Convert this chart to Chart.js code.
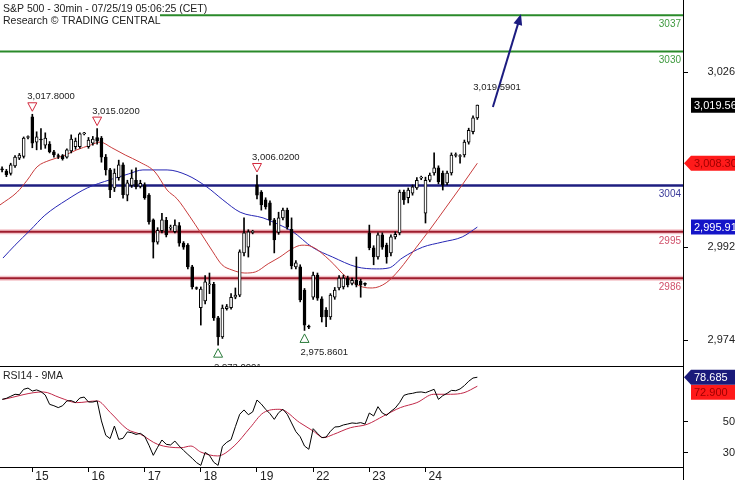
<!DOCTYPE html>
<html>
<head>
<meta charset="utf-8">
<title>S&amp;P 500 - 30min</title>
<script src="https://cdn.jsdelivr.net/npm/chart.js@4.4.1/dist/chart.umd.min.js"></script>
<style>
  html, body { margin: 0; padding: 0; background: #fff; }
  #page { position: relative; width: 735px; height: 480px; overflow: hidden; }
  #main { position: absolute; left: 0; top: 0; }
  #rsi { position: absolute; left: 0; top: 366px; }
</style>
</head>
<body>
<div id="page">
  <canvas id="main" width="735" height="366"></canvas>
  <canvas id="rsi" width="735" height="114"></canvas>
</div>
<script>
'use strict'

// 30-min bars: last 7 bars of Jul 12, then 13 bars per session
var dayLabels = ['15', '16', '17', '18', '19', '22', '23', '24']
var dayFirstBar = [7, 20, 33, 46, 59, 72, 85, 98]

var opens = [
    3007.2, 3006.8, 3006.3, 3007.8, 3009.3, 3009.6, 3013.3,
    3017.3, 3012.4, 3012.9, 3011.8, 3012.0, 3010.5, 3009.7, 3009.8, 3009.5, 3010.7, 3011.5, 3011.5, 3014.0,
    3011.5, 3012.2, 3013.3, 3013.2, 3009.5, 3007.0, 3003.5, 3005.5, 3008.0, 3002.1, 3004.0, 3005.0, 3003.8,
    3004.1, 3002.1, 2997.3, 2993.0, 2995.2, 2997.2, 2995.7, 2995.0, 2996.2, 2992.8, 2992.4, 2988.2, 2984.1,
    2980.3, 2981.6, 2984.7, 2984.8, 2978.3, 2974.6, 2980.1, 2980.3, 2982.3, 2982.7, 2990.9, 2992.0, 2994.9,
    3004.1, 3002.7, 3001.2, 3000.6, 2997.3, 2994.9, 2997.7, 2999.2, 2995.5, 2988.2, 2988.2, 2983.7, 2976.6,
    2982.3, 2986.6, 2982.0, 2979.8, 2978.5, 2982.3, 2984.1, 2984.3, 2986.0, 2985.0, 2985.6, 2985.4, 2984.9,
    2994.8, 2991.9, 2990.1, 2994.4, 2992.4, 2990.9, 2994.0, 2994.8, 3002.7, 3001.6, 3002.5, 3003.5, 3005.4,
    2998.6, 3005.0, 3006.4, 3007.4, 3006.4, 3004.5, 3006.4, 3009.8, 3009.6, 3009.9, 3012.4, 3014.4, 3017.1
]
var highs = [
    3007.6, 3007.1, 3008.3, 3009.8, 3010.2, 3013.4, 3013.6,
    3017.8, 3014.4, 3015.0, 3014.2, 3012.5, 3010.8, 3010.1, 3010.0, 3011.1, 3013.8, 3013.2, 3014.2, 3014.3,
    3013.3, 3013.5, 3015.02, 3013.5, 3010.0, 3007.3, 3007.2, 3008.9, 3008.4, 3005.0, 3007.0, 3007.4, 3005.0,
    3004.5, 3002.4, 2997.5, 2995.8, 2998.6, 2997.8, 2996.3, 2997.3, 2996.8, 2993.1, 2992.7, 2988.5, 2984.3,
    2984.3, 2986.5, 2987.0, 2985.2, 2978.6, 2980.8, 2980.9, 2983.0, 2984.1, 2991.5, 2997.7, 2995.4, 2995.3,
    3006.02, 3003.0, 3001.6, 3001.0, 2997.6, 2998.8, 2999.6, 2999.6, 2997.7, 2989.4, 2988.6, 2984.0, 2976.9,
    2987.2, 2987.0, 2982.4, 2980.3, 2983.0, 2984.2, 2986.5, 2986.6, 2986.4, 2986.0, 2990.1, 2985.8, 2985.1,
    2996.3, 2992.3, 2994.8, 2994.8, 2992.8, 2994.4, 2995.0, 3003.1, 3003.1, 3003.5, 3004.1, 3005.5, 3005.8,
    3005.6, 3006.4, 3010.3, 3007.8, 3006.8, 3006.8, 3010.3, 3010.3, 3010.0, 3012.8, 3015.1, 3017.5, 3019.5901
]
var lows = [
    3006.6, 3005.7, 3006.0, 3007.5, 3009.0, 3009.3, 3013.0,
    3011.3, 3010.9, 3011.0, 3011.2, 3010.3, 3009.5, 3009.2, 3008.9, 3009.3, 3010.3, 3011.0, 3011.2, 3013.8,
    3011.2, 3011.8, 3012.0, 3008.5, 3006.0, 3001.6, 3002.8, 3005.0, 3001.5, 3001.0, 3003.6, 3003.3, 3003.5,
    3001.3, 2996.5, 2989.9, 2992.6, 2994.8, 2994.0, 2995.3, 2994.8, 2992.2, 2991.6, 2987.8, 2983.9, 2983.8,
    2976.9, 2981.0, 2983.0, 2977.8, 2973.0001, 2974.3, 2979.8, 2980.0, 2982.0, 2982.4, 2990.3, 2990.1, 2994.6,
    3001.4, 2999.2, 2999.4, 2996.3, 2990.9, 2994.5, 2997.3, 2995.5, 2987.8, 2987.8, 2981.4, 2975.8601, 2976.2,
    2981.9, 2981.7, 2977.5, 2976.6, 2978.0, 2981.9, 2983.7, 2983.9, 2984.3, 2984.7, 2984.3, 2982.3, 2984.5,
    2991.5, 2988.6, 2989.7, 2991.6, 2988.9, 2990.3, 2993.6, 2994.4, 3000.3, 3000.6, 3002.1, 3003.2, 3005.1,
    2996.7, 3004.7, 3006.0, 3004.3, 3003.1, 3004.1, 3006.0, 3009.5, 3008.3, 3009.5, 3012.0, 3014.0, 3016.8
]
var closes = [
    3007.0, 3006.1, 3008.0, 3009.5, 3009.9, 3013.2, 3013.4,
    3012.2, 3013.4, 3012.8, 3013.2, 3010.5, 3009.9, 3009.6, 3009.2, 3010.9, 3013.0, 3012.6, 3014.0, 3014.1,
    3012.8, 3013.0, 3012.6, 3009.5, 3007.0, 3003.1, 3006.4, 3008.0, 3002.2, 3004.5, 3005.4, 3003.7, 3004.4,
    3001.6, 2996.9, 2993.0, 2995.3, 2997.3, 2994.4, 2995.8, 2996.3, 2992.8, 2992.0, 2988.2, 2984.3, 2984.0,
    2983.9, 2985.3, 2984.9, 2978.3, 2974.6, 2980.2, 2980.5, 2982.3, 2982.7, 2991.1, 2994.8, 2995.0, 2995.0,
    3002.1, 3000.2, 2999.8, 2997.3, 2993.4, 2997.7, 2999.2, 2995.9, 2988.4, 2989.0, 2981.8, 2976.9, 2976.5,
    2986.6, 2982.1, 2978.5, 2978.5, 2982.7, 2983.7, 2986.0, 2986.0, 2984.7, 2985.6, 2984.7, 2984.7, 2984.8,
    2991.9, 2990.1, 2994.4, 2992.0, 2990.1, 2994.0, 2994.5, 3002.7, 3001.2, 3003.1, 3003.7, 3005.0, 3005.5,
    3005.0, 3006.0, 3007.4, 3004.7, 3004.1, 3006.4, 3009.9, 3009.9, 3009.7, 3012.4, 3014.7, 3017.1, 3019.56
]

// price moving averages, read at a few bars
var fastMaBars = [-0.5, 3.5, 5.8, 8.1, 11.1, 14.1, 17.3, 20.4, 22.7, 25.4, 28.5, 31.9, 35.4, 38.2, 40.5, 43.5, 45.8, 48.8, 50.9,
    53.2, 56.2, 58.6, 61.6, 64.3, 67.1, 69.4, 71.8, 75.8, 79.7, 83.4, 85.7, 88.9, 91.9, 95.9, 98.9, 102.8, 106.5, 110]
var fastMa = [3000.2, 3002.7, 3005.0, 3007.6, 3008.9, 3009.7, 3010.9, 3011.8, 3012.4, 3011.3, 3009.9, 3008.5, 3006.6, 3003.1, 3001.4,
    2997.9, 2995.0, 2991.1, 2988.6, 2987.6, 2987.0, 2987.2, 2988.8, 2990.1, 2991.7, 2992.4, 2992.1, 2989.5, 2986.2, 2984.3, 2984.1,
    2985.1, 2987.6, 2992.0, 2995.3, 2999.8, 3004.1, 3008.3]
var slowMaBars = [0.2, 3.0, 6.5, 9.9, 15.0, 19.7, 25.0, 29.2, 32.6, 38.2, 42.8, 47.4, 51.1, 55.1, 60.4, 62.7, 67.3, 71.8, 76.5,
    82.0, 86.6, 89.6, 92.6, 97.3, 101.9, 106.5, 110]
var slowMa = [2989.9, 2992.4, 2995.3, 2998.2, 3001.2, 3003.5, 3005.1, 3006.2, 3007.0, 3007.0, 3006.0, 3003.7, 3001.2, 2998.8,
    2997.7, 2996.9, 2995.0, 2992.0, 2990.1, 2988.2, 2987.8, 2988.0, 2989.9, 2992.0, 2993.0, 2994.0, 2995.91]

var rsi14 = [
    64.4, 65.1, 66.4, 67.7, 67.4, 70.9, 71.7,
    69.8, 70.5, 69.4, 67.2, 61.2, 60.3, 59.1, 60.3, 63.4, 63.6, 62.3, 65.3, 65.9,
    62.7, 62.7, 63.4, 50.5, 41.2, 39.1, 47.2, 38.6, 39.3, 43.4, 42.9, 41.8, 42.5,
    40.6, 34.8, 28.3, 33.5, 38.2, 35.4, 35.0, 37.5, 34.3, 31.5, 28.9, 26.4, 23.6,
    21.8, 30.2, 28.3, 23.8, 21.8, 34.1, 36.7, 38.4, 46.8, 54.8, 57.6, 54.5, 56.3,
    64.0, 61.4, 58.0, 55.2, 51.5, 55.8, 58.0, 54.8, 49.2, 43.6, 40.3, 34.3, 32.2,
    45.5, 42.5, 39.7, 40.1, 43.8, 46.6, 46.8, 47.9, 48.5, 49.2, 48.9, 49.4, 48.5,
    55.6, 53.7, 59.7, 55.6, 54.1, 56.7, 58.8, 62.3, 67.0, 67.9, 68.3, 69.0, 69.2,
    68.7, 69.8, 70.9, 64.4, 66.8, 68.3, 70.2, 70.0, 71.1, 73.3, 76.1, 78.2, 78.685
]
var rsiMaBars = [0.2, 9.5, 13.4, 17.3, 22.0, 25.1, 29.0, 32.1, 36.0, 41.4, 43.7, 46.0, 49.9, 53.7, 57.4, 60.5, 64.3, 68.9, 72.0,
    74.4, 76.7, 80.6, 84.5, 88.3, 92.2, 96.0, 99.9, 103.8, 106.9, 110]
var rsiMa = [64.4, 69.2, 65.5, 62.3, 63.4, 55.8, 45.1, 41.8, 35.4, 33.2, 34.3, 30.4, 27.9, 34.3, 46.1, 55.8, 58.0, 49.4, 44.0,
    39.7, 41.8, 46.1, 48.3, 53.7, 59.1, 62.3, 67.7, 67.7, 68.7, 72.9]

var levels = [3037, 3030, 3004, 2995, 2986]
var priceTicks = [2974, 2992, 3026]
var rsiTicks = [30, 50]
var peakBars = [7, 22, 59]
var troughBars = [50, 70]
var arrowBars = [113.6, 119.9]
var arrowPrices = [3019.2, 3036.7]

// ---- styling ----
var FONT = '"Liberation Sans", Arial, sans-serif'
var X_MIN = -0.48, X_MAX = 157.6
var levelColors = ['#2a8a2a', '#2a8a2a', '#1e1e80', '#9e1c2c', '#9e1c2c']
var levelTextColors = ['#3f9a3f', '#3f9a3f', '#3b3b9a', '#d0506a', '#d0506a']

Chart.defaults.font.family = FONT
Chart.defaults.font.size = 11
Chart.defaults.color = '#222'

function fmt(v, d) {
    return v.toLocaleString('en-US', {minimumFractionDigits: d, maximumFractionDigits: d})
}
function pts(xs, ys) {
    return xs.map(function (x, k) { return {x: x, y: ys[k]} })
}

function flag(ctx, yc, text, fill, color, pointed) {
    var h = 15, left = 691
    ctx.fillStyle = fill
    ctx.beginPath()
    if (pointed) {
        ctx.moveTo(684, yc)
        ctx.lineTo(left, yc - h / 2)
    } else {
        ctx.moveTo(left, yc - h / 2)
    }
    ctx.lineTo(735, yc - h / 2)
    ctx.lineTo(735, yc + h / 2)
    ctx.lineTo(left, yc + h / 2)
    ctx.closePath()
    ctx.fill()
    ctx.fillStyle = color
    ctx.font = '11px ' + FONT
    ctx.textAlign = 'left'
    ctx.textBaseline = 'middle'
    ctx.fillText(text, left + 3, yc + 0.5)
}

var mainOverlay = {
    id: 'mainOverlay',
    afterDraw: function (chart) {
        var ctx = chart.ctx, xs = chart.scales.x, ys = chart.scales.y
        ctx.save()

        // title box
        ctx.fillStyle = '#fff'
        ctx.fillRect(0, 0, 160, 27)
        ctx.fillStyle = '#222'
        ctx.font = '10.5px ' + FONT
        ctx.textAlign = 'left'
        ctx.textBaseline = 'alphabetic'
        ctx.fillText('S&P 500 - 30min - 07/25/19 05:06:25 (CET)', 3, 12)
        ctx.fillText('Research \u00a9 TRADING CENTRAL', 3, 24)

        // level captions
        ctx.font = '10px ' + FONT
        ctx.textAlign = 'right'
        levels.forEach(function (lv, k) {
            ctx.fillStyle = levelTextColors[k]
            ctx.fillText(String(lv), 681, ys.getPixelForValue(lv) + 12)
        })

        // swing markers
        ctx.font = '9.5px ' + FONT
        ctx.textAlign = 'left'
        ctx.lineWidth = 1
        peakBars.forEach(function (b) {
            var px = xs.getPixelForValue(b), py = ys.getPixelForValue(highs[b])
            ctx.beginPath()
            ctx.moveTo(px - 4.5, py - 11.5)
            ctx.lineTo(px + 4.5, py - 11.5)
            ctx.lineTo(px, py - 3)
            ctx.closePath()
            ctx.fillStyle = '#fff'
            ctx.fill()
            ctx.strokeStyle = '#d2283c'
            ctx.stroke()
            ctx.fillStyle = '#222'
            ctx.fillText(fmt(highs[b], 4), px - 5, py - 15)
        })
        troughBars.forEach(function (b) {
            var px = xs.getPixelForValue(b), py = ys.getPixelForValue(lows[b])
            ctx.beginPath()
            ctx.moveTo(px, py + 3.5)
            ctx.lineTo(px + 4.5, py + 12)
            ctx.lineTo(px - 4.5, py + 12)
            ctx.closePath()
            ctx.fillStyle = '#fff'
            ctx.fill()
            ctx.strokeStyle = '#2a7a3a'
            ctx.stroke()
            ctx.fillStyle = '#222'
            ctx.fillText(fmt(lows[b], 4), px - 4, py + 25)
        })
        var last = closes.length - 1
        ctx.fillText(fmt(highs[last], 4), xs.getPixelForValue(last) - 4, ys.getPixelForValue(highs[last]) - 15)

        // arrow head
        var ax0 = xs.getPixelForValue(arrowBars[0]), ay0 = ys.getPixelForValue(arrowPrices[0])
        var ax1 = xs.getPixelForValue(arrowBars[1]), ay1 = ys.getPixelForValue(arrowPrices[1])
        var len = Math.hypot(ax1 - ax0, ay1 - ay0)
        var ux = (ax1 - ax0) / len, uy = (ay1 - ay0) / len
        ctx.fillStyle = '#1c1c80'
        ctx.beginPath()
        ctx.moveTo(ax1 + ux * 3, ay1 + uy * 3)
        ctx.lineTo(ax1 - ux * 8 - uy * 4.5, ay1 - uy * 8 + ux * 4.5)
        ctx.lineTo(ax1 - ux * 8 + uy * 4.5, ay1 - uy * 8 - ux * 4.5)
        ctx.closePath()
        ctx.fill()

        // axis flags
        flag(ctx, ys.getPixelForValue(closes[last]), fmt(closes[last], 2), '#000', '#fff', false)
        flag(ctx, ys.getPixelForValue(fastMa[fastMa.length - 1]), fmt(fastMa[fastMa.length - 1], 2), '#ff1a1a', '#a00000', true)
        flag(ctx, ys.getPixelForValue(slowMa[slowMa.length - 1]), fmt(slowMa[slowMa.length - 1], 2), '#1414c8', '#fff', false)
        ctx.restore()
    }
}

var rsiOverlay = {
    id: 'rsiOverlay',
    afterDraw: function (chart) {
        var ctx = chart.ctx, ys = chart.scales.y, area = chart.chartArea
        ctx.save()
        ctx.fillStyle = '#000'
        ctx.fillRect(0, 0, area.right, 1)
        ctx.fillRect(area.right, area.bottom, 1, chart.height - area.bottom)
        ctx.fillStyle = '#222'
        ctx.font = '10.5px ' + FONT
        ctx.textAlign = 'left'
        ctx.textBaseline = 'alphabetic'
        ctx.fillText('RSI14 - 9MA', 3, 13)
        var y1 = ys.getPixelForValue(rsi14[rsi14.length - 1])
        var y2 = Math.max(ys.getPixelForValue(rsiMa[rsiMa.length - 1]), y1 + 15)
        flag(ctx, y2, fmt(rsiMa[rsiMa.length - 1], 3), '#ff1a1a', '#a00000', false)
        flag(ctx, y1, fmt(rsi14[rsi14.length - 1], 3), '#1a1a7a', '#fff', true)
        ctx.restore()
    }
}

function rightAxis(min, max, ticks, fmtFn, pad) {
    return {
        type: 'linear',
        position: 'right',
        min: min,
        max: max,
        afterBuildTicks: function (a) { a.ticks = ticks.map(function (v) { return {value: v} }) },
        afterFit: function (a) {
            a.width = 52
            a.paddingTop = 0
            a.paddingBottom = 0
        },
        grid: {drawOnChartArea: false, drawTicks: true, tickLength: 5, color: '#000'},
        border: {display: true, color: '#000'},
        ticks: {crossAlign: 'far', padding: pad, color: '#222', font: {size: 11}, callback: fmtFn}
    }
}

// ---- price panel ----
var levelSets = []
levels.forEach(function (lv, k) {
    var line = [{x: X_MIN, y: lv}, {x: X_MAX, y: lv}]
    if (k >= 3) {
        levelSets.push({type: 'line', data: line, borderColor: '#f4c4ca', borderWidth: 5, pointRadius: 0, order: 9})
    }
    levelSets.push({type: 'line', data: line, borderColor: levelColors[k], borderWidth: k === 2 ? 2.5 : 2, pointRadius: 0, order: 8})
})

new Chart(document.getElementById('main'), {
    type: 'bar',
    data: {
        datasets: levelSets.concat([
            {
                type: 'line', data: pts(fastMaBars, fastMa), borderColor: '#c83c3c', borderWidth: 1,
                pointRadius: 0, cubicInterpolationMode: 'monotone', order: 6
            },
            {
                type: 'line', data: pts(slowMaBars, slowMa), borderColor: '#2626b4', borderWidth: 1,
                pointRadius: 0, cubicInterpolationMode: 'monotone', order: 6
            },
            {
                // wicks
                data: highs.map(function (h, i) { return {x: i, y: [lows[i], h]} }),
                backgroundColor: '#000', barThickness: 1, grouped: false, order: 4
            },
            {
                // bodies
                data: opens.map(function (o, i) { return {x: i, y: [o, closes[i]]} }),
                backgroundColor: closes.map(function (c, i) { return c >= opens[i] ? '#fff' : '#000' }),
                borderColor: '#000', borderWidth: 1, borderSkipped: false,
                barThickness: 3, minBarLength: 1, grouped: false, order: 3
            },
            {
                type: 'line', data: pts(arrowBars, arrowPrices), borderColor: '#1c1c80', borderWidth: 2,
                pointRadius: 0, order: 1
            }
        ])
    },
    options: {
        responsive: false,
        animation: false,
        layout: {padding: 0},
        plugins: {legend: {display: false}, tooltip: {enabled: false}},
        scales: {
            x: {type: 'linear', min: X_MIN, max: X_MAX, offset: false, display: false},
            y: rightAxis(2968.96, 3039.97, priceTicks, function (v) { return fmt(v, 0) }, 16)
        }
    },
    plugins: [mainOverlay]
})

// ---- RSI panel ----
new Chart(document.getElementById('rsi'), {
    type: 'line',
    data: {
        datasets: [
            {
                data: rsi14.map(function (v, i) { return {x: i, y: v} }),
                borderColor: '#000', borderWidth: 1, pointRadius: 0, tension: 0, order: 1
            },
            {
                data: pts(rsiMaBars, rsiMa), borderColor: '#c02848', borderWidth: 1,
                pointRadius: 0, cubicInterpolationMode: 'monotone', order: 2
            }
        ]
    },
    options: {
        responsive: false,
        animation: false,
        layout: {padding: 0},
        plugins: {legend: {display: false}, tooltip: {enabled: false}},
        scales: {
            x: {
                type: 'linear', min: X_MIN, max: X_MAX, offset: false,
                afterBuildTicks: function (a) { a.ticks = dayFirstBar.map(function (v) { return {value: v} }) },
                afterFit: function (a) {
                    a.height = 13
                    a.paddingLeft = 0
                    a.paddingRight = 0
                },
                grid: {drawOnChartArea: false, drawTicks: true, tickLength: 5, color: '#000'},
                border: {display: true, color: '#000'},
                ticks: {
                    align: 'start', padding: -3, labelOffset: 3, maxRotation: 0, autoSkip: false, color: '#222',
                    font: {size: 12}, callback: function (v, i) { return dayLabels[i] }
                }
            },
            y: rightAxis(20.77, 85.94, rsiTicks, function (v) { return String(v) }, 33)
        }
    },
    plugins: [rsiOverlay]
})
</script>
</body>
</html>
